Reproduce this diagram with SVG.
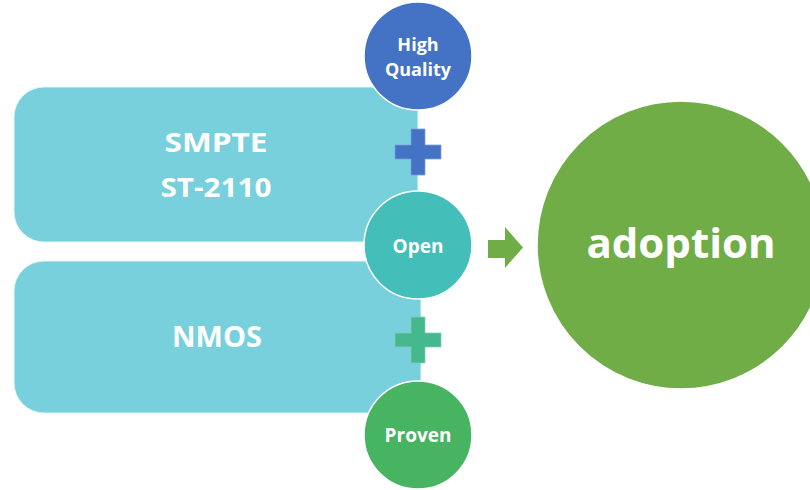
<svg xmlns="http://www.w3.org/2000/svg" width="810" height="490" viewBox="0 0 810 490">
  <style>
    .panel { fill: #78D0DC; stroke: #E6F6F8; stroke-width: 1; }
    .bubble { stroke: #FFFFFF; stroke-width: 1.5; }
    .lbl { fill: #FFFFFF; font-family: "Open Sans", "DejaVu Sans", sans-serif; font-weight: 700; text-anchor: middle; }
    .plus { stroke-width: 0.8; }
  </style>
  <rect width="810" height="490" fill="#FFFFFF"/>

  <!-- Left panels: rounded on the left, square on the right -->
  <g id="smpte">
    <path class="panel" d="M44 87 H418 V242 H44 A30 30 0 0 1 14 212 V117 A30 30 0 0 1 44 87 Z"/>
    <text class="lbl" x="216" y="152" font-size="27" textLength="103" lengthAdjust="spacingAndGlyphs">SMPTE</text>
    <text class="lbl" x="216" y="197" font-size="27" textLength="111" lengthAdjust="spacingAndGlyphs">ST-2110</text>
  </g>
  <g id="nmos">
    <path class="panel" d="M44 261 H421 V413 H44 A30 30 0 0 1 14 383 V291 A30 30 0 0 1 44 261 Z"/>
    <text class="lbl" x="217" y="347" font-size="28" textLength="90" lengthAdjust="spacingAndGlyphs">NMOS</text>
  </g>

  <!-- Plus signs -->
  <g id="plus-top">
    <path class="plus" fill="#4472C4" stroke="#7E9ED8" d="M411 129 H425 V145 H441 V159 H425 V175 H411 V159 H395 V145 H411 Z"/>
  </g>
  <g id="plus-bottom">
    <path class="plus" fill="#45B88E" stroke="#7FCFB2" d="M411 317 H425 V333 H441 V347 H425 V363 H411 V347 H395 V333 H411 Z"/>
  </g>

  <!-- Quality bubbles -->
  <g id="high-quality">
    <circle class="bubble" cx="418" cy="56" r="54" fill="#4472C4"/>
    <text class="lbl" x="418" y="51" font-size="18">High</text>
    <text class="lbl" x="418" y="76" font-size="18">Quality</text>
  </g>
  <g id="open">
    <circle class="bubble" cx="418" cy="245" r="54" fill="#44BEB8"/>
    <text class="lbl" x="418" y="253" font-size="19">Open</text>
  </g>
  <g id="proven">
    <circle class="bubble" cx="418" cy="435" r="54" fill="#47B461"/>
    <text class="lbl" x="418" y="442" font-size="19">Proven</text>
  </g>

  <!-- Arrow to result -->
  <g id="connectors">
    <path fill="#70AD47" d="M488 240 H505 V227 L523 247.5 L505 268 V258 H488 Z"/>
  </g>

  <g id="adoption">
    <circle class="bubble" cx="681" cy="245" r="144" fill="#70AD47"/>
    <text class="lbl" x="681" y="258" font-size="42">adoption</text>
  </g>
</svg>
